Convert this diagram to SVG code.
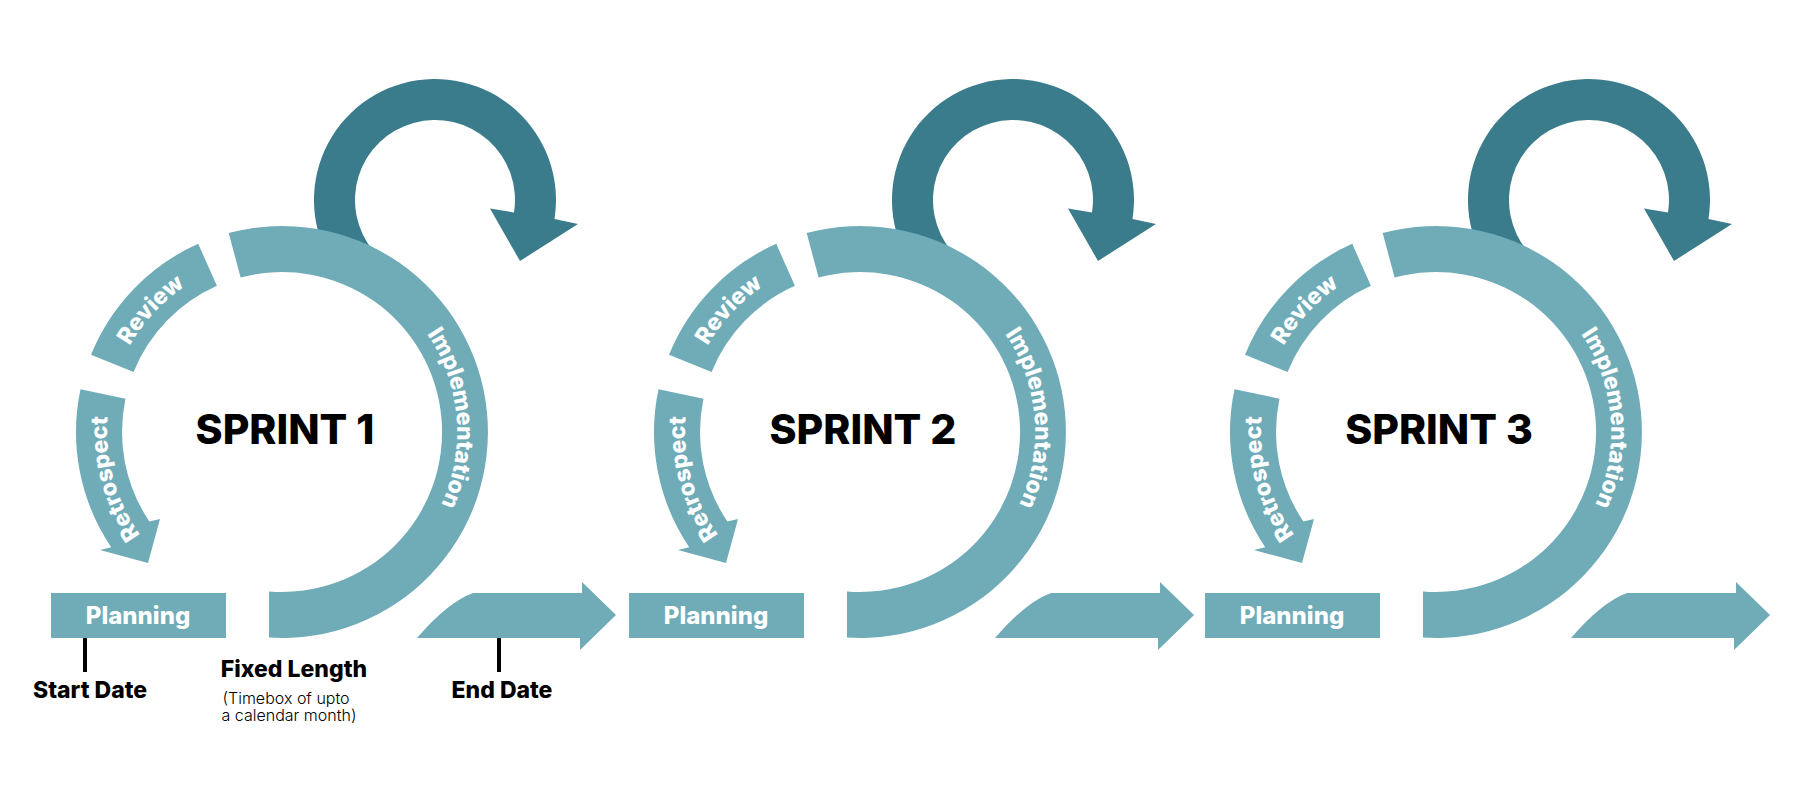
<svg xmlns="http://www.w3.org/2000/svg" xmlns:xlink="http://www.w3.org/1999/xlink" width="1800" height="798" viewBox="0 0 1800 798">
<style>
.lt{fill:#6FACB8}
.dk{fill:#3A7C8C}
.wl{font-family:Inter,"Liberation Sans",sans-serif;font-weight:800;fill:#fff;font-size:23px}
.pl{font-family:Inter,"Liberation Sans",sans-serif;font-weight:800;fill:#fff;font-size:24px;text-anchor:middle}
.sp{font-family:Inter,"Liberation Sans",sans-serif;font-weight:800;fill:#000;font-size:41px;text-anchor:middle}
.bl{font-family:Inter,"Liberation Sans",sans-serif;font-weight:800;fill:#000;font-size:23px;text-anchor:middle}
.sm{font-family:Inter,"Liberation Sans",sans-serif;font-weight:300;fill:#000;font-size:16px;text-anchor:middle}
</style>
<defs>
<path id="pImpl" d="M391,295 A175 175 0 0 1 419,541"/>
<path id="pRev" d="M111.5,392.6 A175 175 0 0 1 230.8,264.6"/>
<path id="pRet" d="M159.3,556.8 A175 175 0 0 1 112.6,388.2"/>
<g id="cycle">
<path class="dk" d="M342.3,277.8 A121 121 0 1 1 554.5,218.9 L578,224 L520,261 L490,208.5 L514,212.5 A80 80 0 1 0 373.7,251.4 Z"/>
<path class="lt" d="M269,637.6 A206 206 0 1 0 228.7,233 L240.6,277.5 A160 160 0 1 1 269,591.5 Z"/>
<path class="lt" d="M198.2,243.8 A206 206 0 0 0 91,354.8 L133.6,372 A160 160 0 0 1 216.9,285.8 Z"/>
<path class="lt" d="M80.5,389.2 A206 206 0 0 0 111.2,547.2 L100,550 L148,563 L160,519 L149.4,521.5 A160 160 0 0 1 125.5,398.7 Z"/>
<rect class="lt" x="51" y="593" width="175" height="45"/>
<text class="pl" x="138" y="624">Planning</text>
<text class="wl"><textPath href="#pImpl" startOffset="52%" text-anchor="middle">Implementation</textPath></text>
<text class="wl"><textPath href="#pRev" startOffset="50%" text-anchor="middle">Review</textPath></text>
<text class="wl"><textPath href="#pRet" startOffset="50%" text-anchor="middle">Retrospect</textPath></text>
</g>
</defs>
<g id="sprint1">
<use href="#cycle"/>
<text class="sp" x="285" y="444">SPRINT 1</text>
</g>
<g id="sprint2" transform="translate(578,0)">
<use href="#cycle"/>
<text class="sp" x="285" y="444">SPRINT 2</text>
</g>
<g id="sprint3" transform="translate(1154,0)">
<use href="#cycle"/>
<text class="sp" x="285" y="444">SPRINT 3</text>
</g>
<g id="connectors">
<path class="lt" d="M417,638 Q448,602 473,593 L582,593 L582,582 L616,615 L580,650 L580,638 Z"/>
<path class="lt" transform="translate(578,0)" d="M417,638 Q448,602 473,593 L582,593 L582,582 L616,615 L580,650 L580,638 Z"/>
<path class="lt" transform="translate(1154,0)" d="M417,638 Q448,602 473,593 L582,593 L582,582 L616,615 L580,650 L580,638 Z"/>
<rect x="83" y="638" width="4" height="34" fill="#000"/>
<rect x="497" y="638" width="4" height="34" fill="#000"/>
</g>
<g id="labels">
<text class="bl" x="90" y="698">Start Date</text>
<text class="bl" x="294" y="677">Fixed Length</text>
<text class="sm" x="286" y="704">(Timebox of upto</text>
<text class="sm" x="289" y="721">a calendar month)</text>
<text class="bl" x="502" y="698">End Date</text>
</g>
</svg>
